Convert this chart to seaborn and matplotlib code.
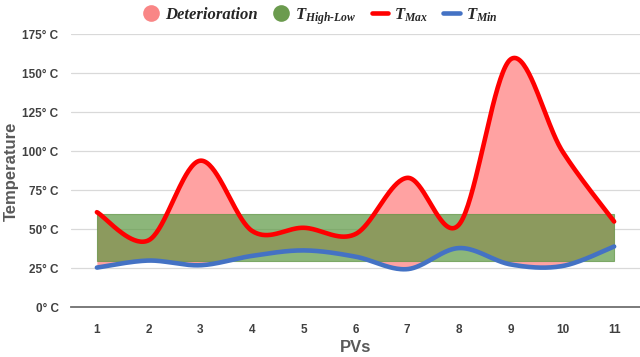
import numpy as np
import pandas as pd
import matplotlib
matplotlib.use("Agg")
import matplotlib.pyplot as plt
from matplotlib.lines import Line2D
import seaborn as sns

# ============================================
# Data
# ============================================
pvs = [1, 2, 3, 4, 5, 6, 7, 8, 9, 10, 11]
t_max = [61, 43, 94, 49, 51, 47, 83, 53, 159, 100, 55]
t_min = [25.5, 30, 27, 33, 36.5, 32.5, 24.5, 38, 27.5, 26.5, 39]
band_low = 30
band_high = 60
y_ticks = [0, 25, 50, 75, 100, 125, 150, 175]
y_tick_labels = ["0° C", "25° C", "50° C", "75° C", "100° C", "125° C", "150° C", "175° C"]


# Excel-style smoothed line (Bezier through every point)
def smooth(xs, ys, n=40):
    pts = np.column_stack([xs, ys]).astype(float)
    p = np.vstack([pts[0], pts, pts[-1]])
    t = np.linspace(0, 1, n, endpoint=False)[:, None]
    out = []
    for i in range(1, len(p) - 2):
        p0, p1, p2, p3 = p[i - 1], p[i], p[i + 1], p[i + 2]
        c1 = p1 + (p2 - p0) / 6
        c2 = p2 - (p3 - p1) / 6
        seg = ((1 - t) ** 3) * p1 + 3 * ((1 - t) ** 2) * t * c1 \
            + 3 * (1 - t) * t ** 2 * c2 + t ** 3 * p2
        out.append(seg)
    out.append(pts[-1][None, :])
    out = np.vstack(out)
    return out[:, 0], out[:, 1]


xs_max, ys_max = smooth(pvs, t_max)
xs_min, ys_min = smooth(pvs, t_min)
df = pd.DataFrame({"x": xs_max, "tmax": ys_max, "tmin": ys_min})

# ============================================
# Style
# ============================================
sns.set_style("white")
plt.rcParams["font.family"] = ["Liberation Sans", "DejaVu Sans"]
plt.rcParams["mathtext.fontset"] = "custom"
plt.rcParams["mathtext.it"] = "Liberation Serif:italic:bold"
plt.rcParams["mathtext.rm"] = "Liberation Serif:italic:bold"
plt.rcParams["mathtext.bf"] = "Liberation Serif:italic:bold"

fig = plt.figure(figsize=(6.4, 3.57), dpi=100)
ax = fig.add_axes([0.111, 0.139, 0.889, 0.765])

# Deterioration area and the allowed band
ax.fill_between(df["x"], df["tmin"], df["tmax"], color="#FFA2A2", lw=0, zorder=2)
ax.fill_between([pvs[0], pvs[-1]], band_low, band_high, facecolor="#5C9842",
                alpha=0.7, edgecolor="#5E9442", lw=0.8, zorder=3)

sns.lineplot(data=df, x="x", y="tmax", sort=False, color="#FF0000", lw=3.3,
             ax=ax, zorder=5)
sns.lineplot(data=df, x="x", y="tmin", sort=False, color="#4472C4", lw=3.3,
             ax=ax, zorder=5)

ax.set_xlim(0.5, 11.5)
ax.set_ylim(0, 175)
ax.set_xticks(pvs)
ax.set_xticklabels([str(p) for p in pvs], fontsize=8.5, fontweight="bold", color="#404040")
ax.set_yticks(y_ticks)
ax.set_yticklabels(y_tick_labels, fontsize=8.5, fontweight="bold", color="#404040")
ax.tick_params(axis="x", length=0, pad=12)
ax.tick_params(axis="y", length=0, pad=9)

ax.grid(axis="y", color="#D9D9D9", lw=0.9, zorder=0)
ax.set_axisbelow(True)
for side in ["top", "right", "left"]:
    ax.spines[side].set_visible(False)
ax.spines["bottom"].set_color("#707070")
ax.spines["bottom"].set_linewidth(1.3)
ax.spines["bottom"].set_zorder(6)

ax.set_xlabel("PVs", fontsize=12, fontweight="bold", color="#595959", labelpad=3)
ax.set_ylabel("Temperature", fontsize=12, fontweight="bold", color="#595959", labelpad=2.5)

# ============================================
# Legend
# ============================================
handles = [
    Line2D([], [], marker="o", linestyle="none", markersize=12,
           markerfacecolor="#F98686", markeredgecolor="none"),
    Line2D([], [], marker="o", linestyle="none", markersize=12,
           markerfacecolor="#6B9B4E", markeredgecolor="none"),
    Line2D([], [], color="#FF0000", lw=3.3),
    Line2D([], [], color="#4472C4", lw=3.3),
]
labels = ["Deterioration", r"$T_{High\text{-}Low}$", r"$T_{Max}$", r"$T_{Min}$"]
fig.legend(handles, labels, loc="upper center", bbox_to_anchor=(0.5, 1.025), ncol=4,
           frameon=False, handlelength=1.0, handletextpad=0.35, columnspacing=0.9,
           prop={"family": "Liberation Serif", "style": "italic", "weight": "bold", "size": 12})

fig.savefig("out.png", dpi=100)
